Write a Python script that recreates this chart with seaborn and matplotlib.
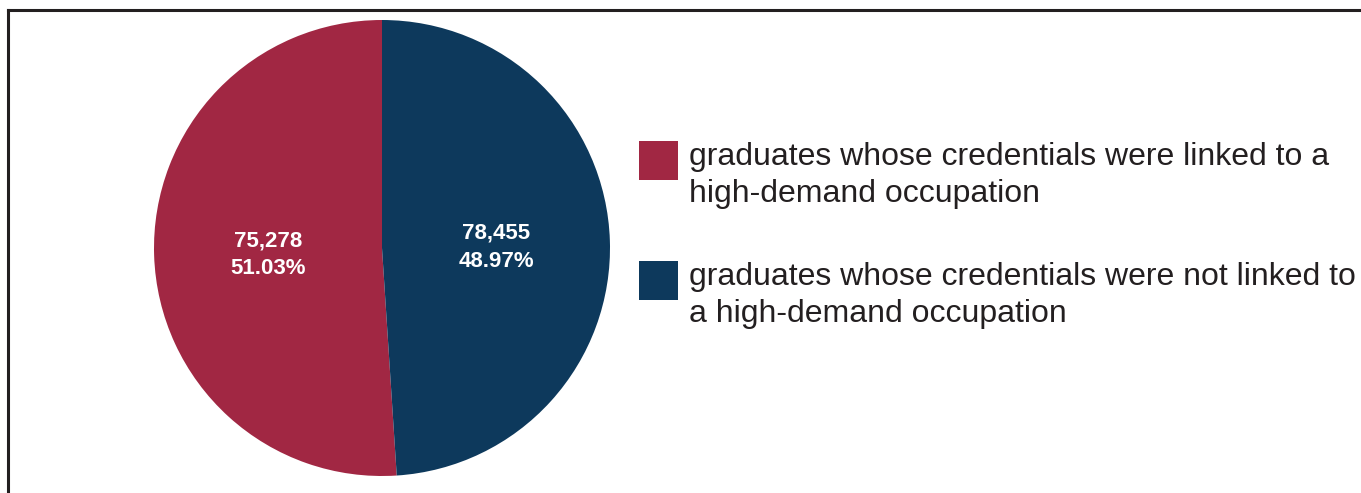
import matplotlib
matplotlib.use("Agg")
import matplotlib.pyplot as plt
import seaborn as sns
from matplotlib.lines import Line2D
from matplotlib.patches import Rectangle
import numpy as np

# ---- data ----
categories = [
    "graduates whose credentials were linked to a\nhigh-demand occupation",
    "graduates whose credentials were not linked to\na high-demand occupation",
]
counts = ["75,278", "78,455"]
percents = [51.03, 48.97]
colors = ["#A12743", "#0D395C"]

sns.set_theme(style="white")
plt.rcParams["font.family"] = ["Liberation Sans", "DejaVu Sans"]

W, H = 1361, 493
fig = plt.figure(figsize=(W / 100, H / 100), dpi=100)

# pie axes: centre (382, 248) px, radius 228 px
cx, cy, r = 382, 248, 228
ax = fig.add_axes([(cx - r) / W, (H - cy - r) / H, 2 * r / W, 2 * r / H])
wedges, _ = ax.pie(percents, colors=colors, startangle=90, counterclock=True,
                   radius=1, wedgeprops=dict(linewidth=0))
ax.set_xlim(-1, 1)
ax.set_ylim(-1, 1)
ax.set_aspect("equal")
ax.axis("off")

for w, c, p in zip(wedges, counts, percents):
    ang = np.deg2rad((w.theta1 + w.theta2) / 2)
    x, y = 0.5 * np.cos(ang), 0.5 * np.sin(ang) - 0.014
    ax.text(x, y, f"{c}\n{p:.2f}%", ha="center", va="center", color="white",
            fontsize=16, fontweight="bold", linespacing=1.45)

# legend (manual)
sq_x, sq_w = 639, 39
sq_tops = [141, 261]
for top, col, lab in zip(sq_tops, colors, categories):
    fig.add_artist(Rectangle((sq_x / W, (H - top - sq_w) / H), sq_w / W, sq_w / H,
                             transform=fig.transFigure, facecolor=col, edgecolor="none"))
    fig.text(689 / W, (H - top - 1) / H, lab, ha="left", va="top", fontsize=23,
             color="#231F20", linespacing=1.3)

# frame lines
fig.add_artist(Line2D([8 / W, 1.0], [(H - 9.7) / H, (H - 9.7) / H], transform=fig.transFigure,
                      color="#231F20", linewidth=2.2, solid_capstyle="projecting"))
fig.add_artist(Line2D([8 / W, 8 / W], [(H - 9.7) / H, 0], transform=fig.transFigure,
                      color="#231F20", linewidth=2.2, solid_capstyle="projecting"))

fig.savefig("out.png", dpi=100, facecolor="white")
